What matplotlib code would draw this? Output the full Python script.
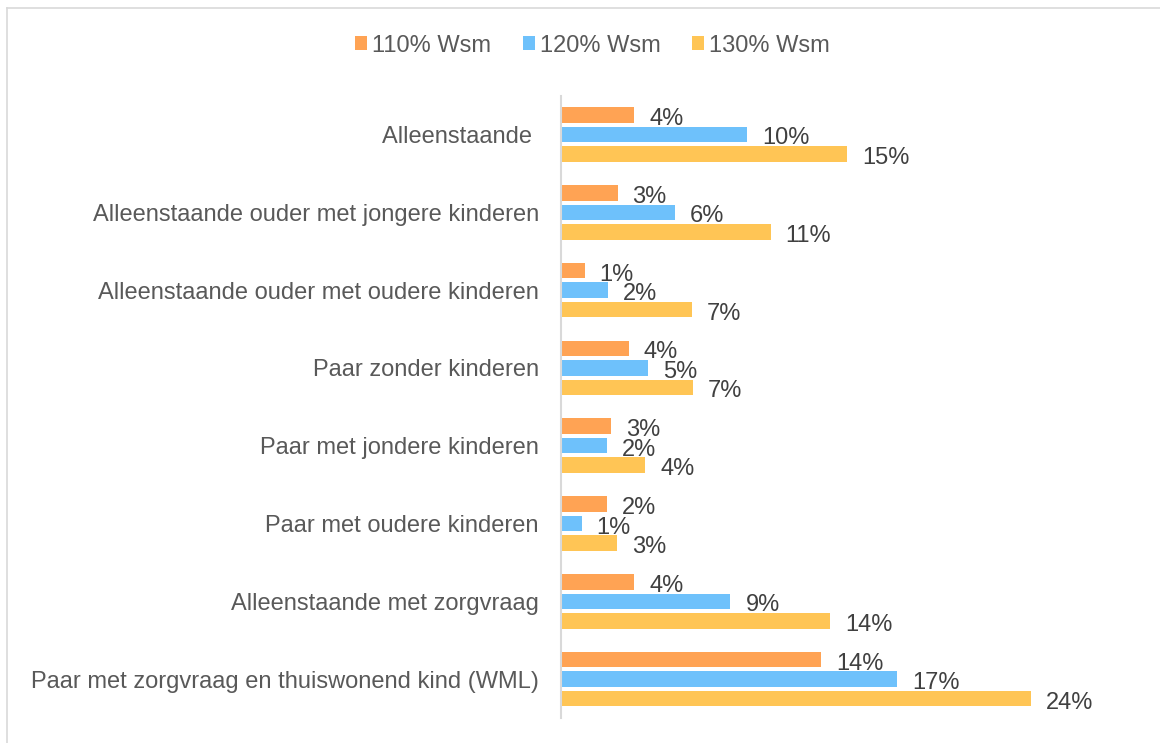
import matplotlib
matplotlib.use("Agg")
import matplotlib.pyplot as plt
from matplotlib.patches import Patch
from matplotlib.lines import Line2D
import numpy as np

categories = [
    "Alleenstaande ",
    "Alleenstaande ouder met jongere kinderen",
    "Alleenstaande ouder met oudere kinderen",
    "Paar zonder kinderen",
    "Paar met jondere kinderen",
    "Paar met oudere kinderen",
    "Alleenstaande met zorgvraag",
    "Paar met zorgvraag en thuiswonend kind (WML)",
]
series_names = ["110% Wsm", "120% Wsm", "130% Wsm"]
v110 = [3.84, 2.96, 1.25, 3.53, 2.61, 2.42, 3.82, 13.51]
v120 = [9.68, 5.93, 2.45, 4.55, 2.42, 1.09, 8.82, 17.48]
v130 = [14.87, 10.90, 6.81, 6.88, 4.39, 2.92, 13.98, 24.43]
colors = ["#FFA354", "#6EC1FB", "#FFC555"]

plt.rcParams['font.family'] = ['Liberation Sans', 'DejaVu Sans']

W, H = 1160, 743
fig = plt.figure(figsize=(W / 100, H / 100), dpi=100)
ax_left = 560.5 / W
ax_top = 95.6 / H
ax_bot = 718 / H
px_per = 19.27
xmax = 30
ax = fig.add_axes([ax_left, 1 - ax_bot, xmax * px_per / W, ax_bot - ax_top])

y = np.arange(len(categories))
offsets = [-0.25, 0.0, 0.25]
h = 0.2
for vals, off, col in zip([v110, v120, v130], offsets, colors):
    bars = ax.barh(y + off, vals, height=h, color=col, linewidth=0)
    for b, v in zip(bars, vals):
        ax.annotate(f"{v:.0f}%", xy=(b.get_width(), b.get_y() + b.get_height() / 2),
                    xytext=(10.8, -7.2), textcoords="offset points",
                    ha="left", va="baseline", fontsize=17, color="#404040")

ax.set_xlim(0, xmax)
ax.set_ylim(len(categories) - 0.5, -0.5)
ax.set_yticks(y)
ax.set_yticklabels(categories, fontsize=17, color="#595959")
ax.tick_params(axis="y", length=0, pad=15.5)
ax.set_xticks([])
for s in ["top", "right", "bottom"]:
    ax.spines[s].set_visible(False)
ax.spines["left"].set_color("#D9D9D9")
ax.spines["left"].set_linewidth(1.5)

handles = [Patch(facecolor=c, edgecolor="none") for c in colors]
fig.legend(handles, series_names, loc="center", bbox_to_anchor=(592.5 / W, 1 - 45.5 / H),
           ncol=3, frameon=False, fontsize=17, labelcolor="#595959",
           handlelength=0.51, handleheight=0.55, handletextpad=0.2,
           columnspacing=1.35, borderpad=0, borderaxespad=0)

# outer chart frame
fig.add_artist(Line2D([7 / W, 1.0], [1 - 8 / H, 1 - 8 / H], transform=fig.transFigure,
                      color="#D9D9D9", linewidth=1.2))
fig.add_artist(Line2D([7 / W, 7 / W], [0, 1 - 8 / H], transform=fig.transFigure,
                      color="#D9D9D9", linewidth=1.2))

fig.savefig("out.png", dpi=100, facecolor="white")
